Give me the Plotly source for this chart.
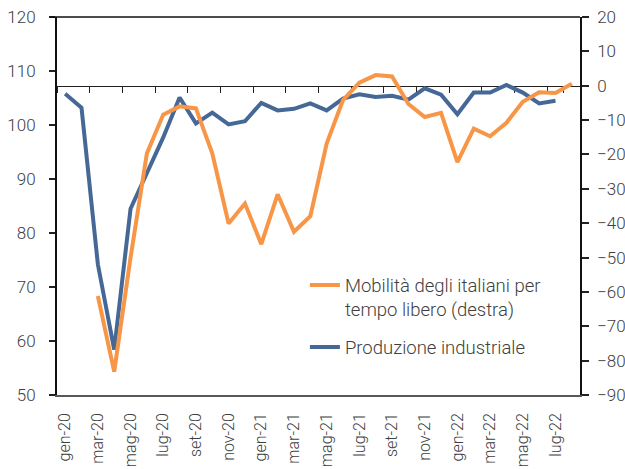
import plotly.graph_objects as go

months = ["gen-20", "feb-20", "mar-20", "apr-20", "mag-20", "giu-20", "lug-20", "ago-20",
          "set-20", "ott-20", "nov-20", "dic-20", "gen-21", "feb-21", "mar-21", "apr-21",
          "mag-21", "giu-21", "lug-21", "ago-21", "set-21", "ott-21", "nov-21", "dic-21",
          "gen-22", "feb-22", "mar-22", "apr-22", "mag-22", "giu-22", "lug-22", "ago-22"]

produzione = [105.8, 103.2, 74.2, 58.4, 84.5, 91.0, 97.7, 105.1,
               100.3, 102.3, 100.1, 100.7, 104.1, 102.7, 103.0, 104.0,
               102.7, 104.9, 105.7, 105.2, 105.4, 104.7, 106.8, 105.6,
               102.0, 106.0, 106.0, 107.4, 106.0, 104.0, 104.5, None]

mobilita = [None, None, -61.2, -83.2, -50.0, -19.7, -8.4, -6.0,
            -6.6, -19.7, -40.1, -34.3, -46.1, -31.6, -42.5, -38.0,
            -16.8, -4.2, 0.9, 3.1, 2.7, -5.3, -9.1, -7.9,
            -22.2, -12.5, -14.7, -10.8, -4.7, -1.9, -2.1, 0.6]

left_ticks = [50, 60, 70, 80, 90, 100, 110, 120]
right_ticks = [-90, -80, -70, -60, -50, -40, -30, -20, -10, 0, 10, 20]

ORANGE = "#F79646"
BLUE = "#456897"
TXT = "#404040"
FONT = "Roboto"
W = 300

fig = go.Figure()
fig.add_trace(go.Scatter(
    x=months, y=mobilita, xaxis="x2", yaxis="y2", mode="lines",
    name="Mobilità degli italiani per<br>tempo libero (destra)", legendgroup="a",
    line=dict(color=ORANGE, width=4), connectgaps=False))
fig.add_trace(go.Scatter(
    x=months, y=produzione, xaxis="x", yaxis="y", mode="lines",
    name="Produzione industriale", legendgroup="b",
    line=dict(color=BLUE, width=4), connectgaps=False))

zero_pos = (0 - right_ticks[0]) / (right_ticks[-1] - right_ticks[0])

fig.update_layout(
    width=625, height=469,
    margin=dict(l=57, r=45, t=17, b=74, autoexpand=False),
    paper_bgcolor="white", plot_bgcolor="white",
    font=dict(family=FONT, size=17, color=TXT, weight=W),
    showlegend=True,
    legend=dict(x=0.474, y=0.34, xanchor="left", yanchor="top",
                bgcolor="rgba(0,0,0,0)", font=dict(size=18.5, color=TXT, weight=W),
                valign="top", traceorder="grouped", tracegroupgap=11, itemwidth=30),
    xaxis=dict(type="category", categoryorder="array", categoryarray=months,
               range=[-0.5, len(months) - 0.5], automargin=False,
               tickmode="array", tickvals=months[::2], tickangle=-90,
               ticks="", showgrid=False, zeroline=False, ticklabelstandoff=10,
               showline=True, linecolor="#595959", linewidth=1.5,
               tickfont=dict(size=16, color=TXT, weight=W)),
    xaxis2=dict(type="category", categoryorder="array", categoryarray=months,
                overlaying="x", anchor="free", position=zero_pos, side="bottom",
                range=[-0.5, len(months) - 0.5], automargin=False,
                tickmode="array", tickvals=months[::2], tickson="boundaries",
                ticks="outside", ticklen=6, tickwidth=1.3, tickcolor="#222",
                showticklabels=False, showgrid=False, zeroline=False,
                showline=True, linecolor="#222", linewidth=1.3, layer="below traces"),
    yaxis=dict(range=[50, 120], tickmode="array", tickvals=left_ticks, automargin=False,
               ticks="outside", ticklen=6, tickwidth=1.5, tickcolor="#222",
               showgrid=False, zeroline=False, ticklabelstandoff=10,
               showline=True, linecolor="#111", linewidth=2,
               tickfont=dict(size=17, color=TXT, weight=W)),
    yaxis2=dict(range=[-90, 20], tickmode="array", tickvals=right_ticks, automargin=False,
                overlaying="y", side="right", anchor="x2",
                ticks="outside", ticklen=7, tickwidth=1.5, tickcolor="#222",
                showgrid=False, zeroline=False, ticklabelstandoff=5,
                showline=True, linecolor="#111", linewidth=1.5,
                tickfont=dict(size=17, color=TXT, weight=W)),
)

fig.add_shape(type="line", xref="paper", yref="paper", x0=-0.013, x1=1, y0=1, y1=1,
              line=dict(color="#111", width=1.3), layer="above")

fig.write_html("out.html",
               config={"displayModeBar": False},
               post_script="document.body.style.margin='0px';"
                           "document.body.style.overflow='hidden';")
